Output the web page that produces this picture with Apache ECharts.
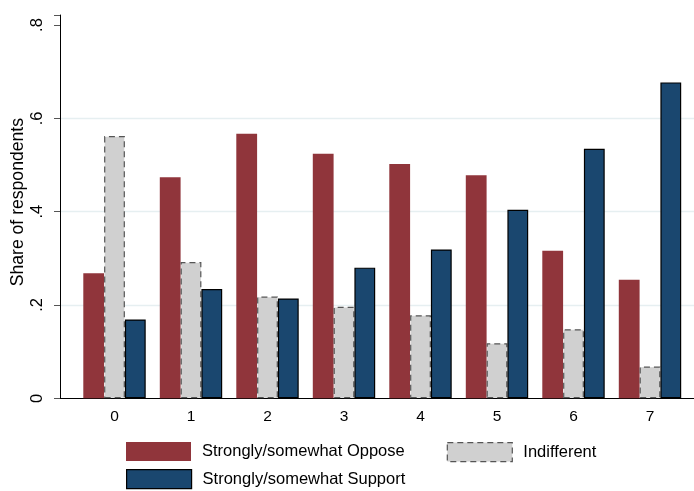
<!DOCTYPE html>
<html>
<head>
<meta charset="utf-8">
<script src="https://cdn.jsdelivr.net/npm/echarts@6/dist/echarts.min.js"></script>
<style>
  html, body { margin: 0; padding: 0; background: #fff; }
  #chart { width: 694px; height: 491px; }
</style>
</head>
<body>
<div id="chart"></div>
<script>
// Categories on the horizontal axis
const categories = ['0', '1', '2', '3', '4', '5', '6', '7'];

// Share of respondents per category
const opposeValues      = [0.268, 0.474, 0.567, 0.524, 0.502, 0.478, 0.316, 0.254];
const indifferentValues = [0.562, 0.292, 0.218, 0.196, 0.178, 0.118, 0.148, 0.068];
const supportValues     = [0.169, 0.234, 0.214, 0.280, 0.319, 0.404, 0.535, 0.677];

// Y-axis tick labels (Stata-style, no leading zero)
const yTickLabels = { '0': '0', '0.2': '.2', '0.4': '.4', '0.6': '.6', '0.8': '.8' };

const seriesNames = ['Strongly/somewhat Oppose', 'Indifferent', 'Strongly/somewhat Support'];

const FONT = '"Liberation Sans", Arial, sans-serif';
const OPPOSE_COLOR = '#90353b';
const INDIFF_COLOR = '#d0d0d0';
const SUPPORT_COLOR = '#1a476f';

const chart = echarts.init(document.getElementById('chart'), null, { renderer: 'canvas' });

const plotBottom = 92.7;
const yMax = 0.8215;

// One legend block per entry, placed in a two-column layout
function legendBlock(name, left, top, itemStyle) {
  return {
    orient: 'horizontal',
    left: left,
    top: top,
    padding: 0,
    itemWidth: 65,
    itemHeight: 19,
    icon: 'rect',
    selectedMode: false,
    textStyle: { color: '#000', fontSize: 16.5, fontFamily: FONT, padding: [0, 0, 0, 6] },
    data: [{ name: name, itemStyle: itemStyle }]
  };
}

chart.setOption({
  animation: false,
  textStyle: { fontFamily: FONT },
  grid: [
    // bars
    { left: 76.25, right: 5.75, top: 15, bottom: plotBottom, containLabel: false, outerBoundsMode: 'none' },
    // full-width frame: bottom axis line and gridlines
    { left: 60, right: 0, top: 25, bottom: plotBottom, containLabel: false, outerBoundsMode: 'none' }
  ],
  xAxis: [
    {
      type: 'category',
      gridIndex: 0,
      data: categories,
      axisLine: { show: false },
      axisTick: { show: false },
      axisLabel: { color: '#000', fontSize: 15.5, margin: 10, fontFamily: FONT },
      splitLine: { show: false }
    },
    {
      type: 'value',
      gridIndex: 1,
      min: 0, max: 1,
      axisLine: { show: true, onZero: false, lineStyle: { color: '#000', width: 1 } },
      axisTick: { show: false },
      axisLabel: { show: false },
      splitLine: { show: false }
    }
  ],
  yAxis: [
    {
      type: 'value',
      gridIndex: 0,
      min: 0,
      max: yMax,
      interval: 0.2,
      offset: 16.25,
      axisLine: { show: true, lineStyle: { color: '#000', width: 1 } },
      axisTick: { show: true, length: 6, lineStyle: { color: '#555' } },
      axisLabel: {
        color: '#000',
        fontSize: 16.5,
        rotate: 90,
        margin: 14,
        fontFamily: FONT,
        formatter: function (v) {
          const key = String(Math.round(v * 10) / 10);
          return Math.abs(v * 5 - Math.round(v * 5)) < 1e-6 ? (yTickLabels[key] || '') : '';
        }
      },
      splitLine: { show: false },
      name: 'Share of respondents',
      nameLocation: 'middle',
      nameRotate: 90,
      nameGap: 33,
      nameMoveOverlap: false,
      nameTextStyle: { color: '#000', fontSize: 17.6, fontFamily: FONT, padding: [0, 0, 0, 9] }
    },
    {
      type: 'value',
      gridIndex: 1,
      min: 0,
      max: 0.8,
      interval: 0.2,
      axisLine: { show: false },
      axisTick: { show: false },
      axisLabel: { show: false },
      splitLine: {
        show: true,
        showMinLine: false,
        showMaxLine: false,
        lineStyle: { color: '#e6eff1', width: 1.3 }
      }
    }
  ],
  legend: [
    legendBlock(seriesNames[0], 126, 442, { color: OPPOSE_COLOR, borderWidth: 0 }),
    legendBlock(seriesNames[2], 126, 469, { color: SUPPORT_COLOR, borderColor: '#000', borderWidth: 1.2 }),
    legendBlock(seriesNames[1], 446.7, 442, { color: INDIFF_COLOR, borderColor: '#555', borderWidth: 1.2, borderType: [6, 4] })
  ],
  series: [
    {
      name: seriesNames[0],
      type: 'bar',
      xAxisIndex: 0, yAxisIndex: 0,
      data: opposeValues,
      barWidth: 20.8,
      barGap: '0%',
      itemStyle: { color: OPPOSE_COLOR }
    },
    {
      name: seriesNames[1],
      type: 'bar',
      xAxisIndex: 0, yAxisIndex: 0,
      data: indifferentValues,
      barWidth: 20.8,
      barGap: '0%',
      itemStyle: { color: INDIFF_COLOR, borderColor: '#555', borderWidth: 1.2, borderType: [6, 4] }
    },
    {
      name: seriesNames[2],
      type: 'bar',
      xAxisIndex: 0, yAxisIndex: 0,
      data: supportValues,
      barWidth: 20.8,
      barGap: '0%',
      itemStyle: { color: SUPPORT_COLOR, borderColor: '#000', borderWidth: 1.2 }
    }
  ]
});
</script>
</body>
</html>
